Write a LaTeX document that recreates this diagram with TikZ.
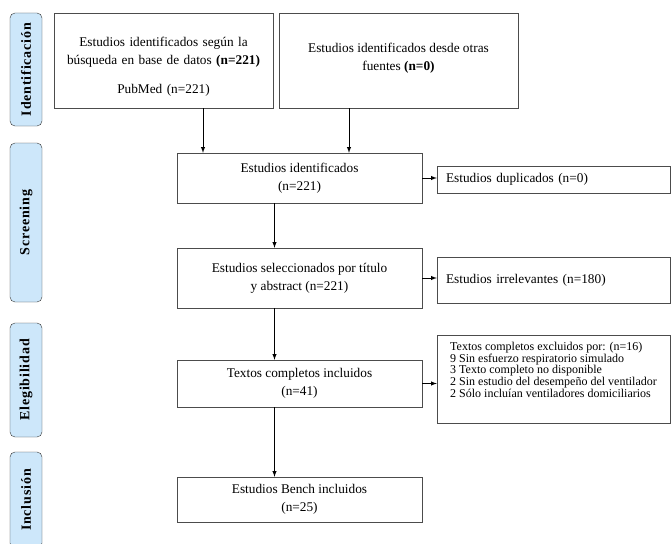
\documentclass[tikz,border=0pt]{standalone}
\usepackage{fontspec}
\setmainfont{Liberation Serif}
\newfontfamily\stagefont[LetterSpace=6]{Liberation Serif}
\usetikzlibrary{positioning}
\usetikzlibrary{arrows,shapes}
\usetikzlibrary{calc}
\definecolor{stageblue}{HTML}{CDE7FA}
\tikzstyle{box}=[draw=black!70,fill=white,inner sep=2pt,align=center,font=\fontsize{13.3}{18}\selectfont]
\tikzstyle{sidebox}=[draw=black!70,fill=white,minimum width=233pt,inner xsep=9pt,text width=215pt,align=left,font=\fontsize{13.3}{18}\selectfont]
\tikzstyle{stage}=[draw=black!80,fill=stageblue,rounded corners=5pt,rotate=90,minimum height=32pt,font=\stagefont\bfseries\fontsize{14}{16}\selectfont]
\tikzstyle{edge} = [draw,line width=1pt,-latex]

\begin{document}
\begin{tikzpicture}[x=1pt,y=1pt]
 \useasboundingbox (0,0) rectangle (671,-543);

 % fases
 \foreach \y/\len/\name/\label in {69.5/113/fident/Identificación, 222.5/159/fscreen/Screening, 380/114/felig/Elegibilidad, 500/96/fincl/Inclusión}
   \node[stage, minimum width=\len pt] (\name) at (26,-\y) {\label};

 % cajas principales
 \node[box, minimum width=219pt, minimum height=95pt, text width=212pt] (busq) at (163.5,-60.5) {\mbox{}\\[4pt] Estudios identificados según la\\ búsqueda en base de datos \textbf{(n=221)}\\[11pt] PubMed (n=221)};
 \node[box, minimum width=239pt, minimum height=95pt] (otras) at (398.5,-60.5) {Estudios identificados desde otras\\ fuentes \textbf{(n=0)}\\[-10pt]};
 \node[box, minimum width=245pt, minimum height=50pt] (ident) at (299.5,-178) {Estudios identificados\\ (n=221)};
 \node[box, minimum width=245pt, minimum height=60pt] (selec) at (299.5,-278) {Estudios seleccionados por título\\ y abstract (n=221)};
 \node[box, minimum width=245pt, minimum height=47pt] (textos) at (299.5,-383.5) {Textos completos incluidos\\ (n=41)};
 \node[box, minimum width=245pt, minimum height=45pt] (bench) at (299.5,-499.5) {Estudios Bench incluidos\\ (n=25)};

 % excluidos
 \node[sidebox, minimum height=27pt] (dupl) at (553.5,-179.5) {Estudios duplicados (n=0)};
 \node[sidebox, minimum height=46pt] (irrel) at (553.5,-280) {Estudios irrelevantes (n=180)};
 \node[draw=black!70, fill=white, minimum width=233pt, minimum height=88pt, align=left, font=\fontsize{12}{11.6}\selectfont] (excl) at (553.5,-379) {Textos completos excluidos por: (n=16)\\ 9 Sin esfuerzo respiratorio simulado\\ 3 Texto completo no disponible\\ 2 Sin estudio del desempeño del ventilador\\ 2 Sólo incluían ventiladores domiciliarios\\[7pt] \mbox{}};

 \draw[edge] ([xshift=39.5pt]busq.south) -- ([xshift=39.5pt]busq.south |- ident.north);
 \draw[edge] ([xshift=-49.5pt]otras.south) -- ([xshift=-49.5pt]otras.south |- ident.north);
 \foreach \source/\dest in {ident/selec, selec/textos, textos/bench}
   \draw[edge] ([xshift=-25pt]\source.south) -- ([xshift=-25pt]\dest.north);
 \foreach \source/\dest in {ident/dupl, selec/irrel, textos/excl}
   \draw[edge] (\source.east) -- (\source.east -| \dest.west);
\end{tikzpicture}
\end{document}
